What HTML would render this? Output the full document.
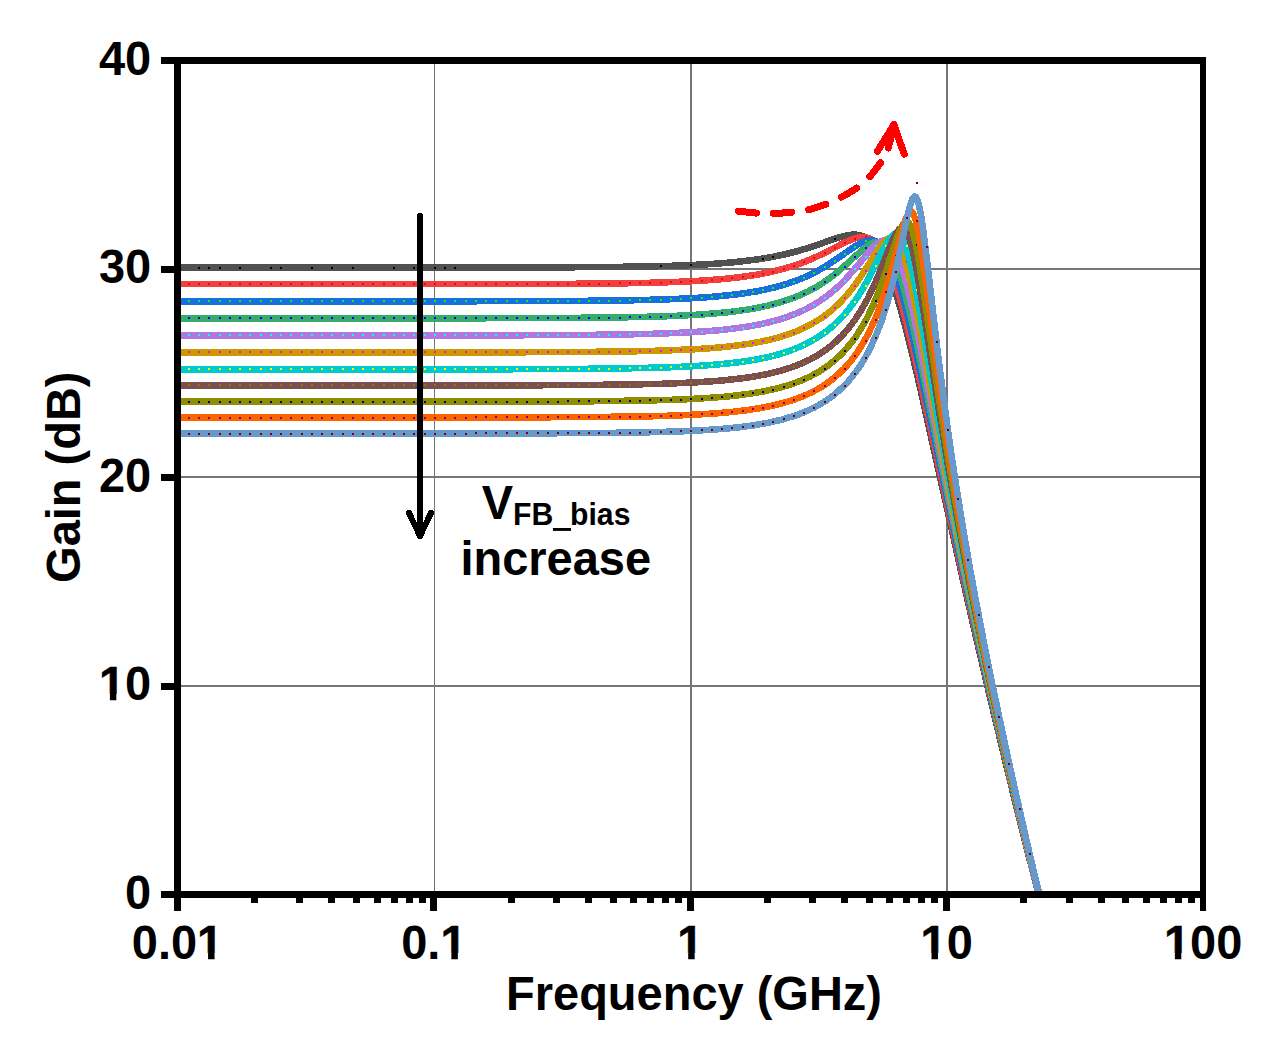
<!DOCTYPE html>
<html><head><meta charset="utf-8"><style>
html,body{margin:0;padding:0;background:#fff;}
svg{display:block;}
text{font-family:"Liberation Sans",sans-serif;font-weight:bold;fill:#000;}
</style></head><body>
<svg width="1271" height="1060" viewBox="0 0 1271 1060">
<rect width="1271" height="1060" fill="#fff"/>
<g fill="#767676">
<rect x="434" y="64" width="1" height="827"/>
<rect x="690" y="64" width="2" height="827"/>
<rect x="946" y="64" width="2" height="827"/>
<rect x="181" y="268" width="1019" height="2"/>
<rect x="181" y="476" width="1019" height="2"/>
<rect x="181" y="685" width="1019" height="2"/>
</g>
<defs><clipPath id="pc"><rect x="174" y="57" width="1032" height="837"/></clipPath></defs>
<g clip-path="url(#pc)" fill="none" stroke-width="6.6" stroke-linejoin="round" shape-rendering="crispEdges">
<path d="M177.5,267.6 L455.8,267.6 L563.7,267.3 L636.2,266.7 L663.3,266.1 L686.7,265.3 L712.3,264.0 L734.3,262.2 L753.9,259.9 L771.8,257.1 L785.7,254.1 L799.1,250.7 L812.5,246.5 L837.8,237.7 L844.0,236.0 L849.0,235.0 L854.4,234.6 L857.1,234.8 L859.5,235.2 L861.8,235.9 L863.9,236.7 L866.0,237.8 L868.1,239.2 L870.5,241.1 L872.8,243.5 L875.2,246.4 L877.6,249.7 L882.0,257.4 L886.5,267.0 L891.0,278.5 L895.4,291.8 L900.2,307.7 L905.5,327.5 L912.7,356.1 L921.0,391.8 L962.6,578.4 L975.4,634.5 L987.9,688.3 L1001.0,743.3 L1014.0,797.1 L1027.4,850.7 L1040.8,903.1" stroke="#515151"/>
<path d="M198.0,266.6h2v2h-2zM208.3,266.6h2v2h-2zM218.5,266.6h2v2h-2zM239.0,266.6h2v2h-2zM269.8,266.6h2v2h-2zM280.1,266.6h2v2h-2zM310.8,266.6h2v2h-2zM331.3,266.6h2v2h-2zM351.9,266.6h2v2h-2zM392.9,266.6h2v2h-2zM413.4,266.6h2v2h-2zM433.9,266.6h2v2h-2zM444.2,266.6h2v2h-2zM454.4,266.6h2v2h-2zM659.5,265.2h2v2h-2zM690.3,264.2h2v2h-2zM762.1,257.7h2v2h-2zM772.3,256.0h2v2h-2zM833.9,238.0h2v2h-2z" fill="#000000" stroke="none"/>
<path d="M177.5,284.2 L466.8,284.1 L576.4,283.8 L617.2,283.4 L649.9,282.8 L677.5,281.9 L701.0,280.7 L722.4,279.1 L741.4,277.0 L758.7,274.4 L774.1,271.2 L783.1,268.9 L791.4,266.5 L799.4,263.8 L807.4,260.7 L814.6,257.6 L821.7,254.3 L845.8,242.0 L850.5,239.9 L854.4,238.5 L857.1,237.8 L859.8,237.3 L862.1,237.1 L864.5,237.3 L866.6,237.6 L868.7,238.3 L870.8,239.3 L872.8,240.6 L874.9,242.3 L877.0,244.4 L879.1,246.9 L881.2,249.9 L885.0,256.7 L888.9,265.2 L893.0,276.1 L897.2,288.9 L901.4,303.2 L906.1,321.2 L912.4,346.8 L919.5,377.9 L959.3,560.0 L972.4,618.4 L985.2,674.2 L998.9,732.6 L1012.8,790.8 L1026.8,847.5 L1040.8,902.9" stroke="#F14040"/>
<path d="M187.8,283.2h2v2h-2zM198.0,283.2h2v2h-2zM208.3,283.2h2v2h-2zM218.5,283.2h2v2h-2zM228.8,283.2h2v2h-2zM239.0,283.2h2v2h-2zM249.3,283.2h2v2h-2zM259.5,283.2h2v2h-2zM269.8,283.2h2v2h-2zM280.1,283.2h2v2h-2zM290.3,283.2h2v2h-2zM300.6,283.2h2v2h-2zM310.8,283.2h2v2h-2zM321.1,283.2h2v2h-2zM331.3,283.2h2v2h-2zM341.6,283.2h2v2h-2zM351.9,283.2h2v2h-2zM362.1,283.2h2v2h-2zM372.4,283.2h2v2h-2zM382.6,283.2h2v2h-2zM392.9,283.2h2v2h-2zM403.1,283.2h2v2h-2zM413.4,283.2h2v2h-2zM423.6,283.2h2v2h-2zM433.9,283.2h2v2h-2zM444.2,283.2h2v2h-2zM454.4,283.2h2v2h-2zM464.7,283.2h2v2h-2zM474.9,283.1h2v2h-2zM485.2,283.1h2v2h-2zM495.4,283.1h2v2h-2zM505.7,283.1h2v2h-2zM515.9,283.1h2v2h-2zM526.2,283.1h2v2h-2zM536.5,283.0h2v2h-2zM546.7,283.0h2v2h-2zM557.0,282.9h2v2h-2zM567.2,282.9h2v2h-2zM577.5,282.8h2v2h-2zM587.7,282.7h2v2h-2zM598.0,282.7h2v2h-2zM608.3,282.5h2v2h-2zM618.5,282.4h2v2h-2zM628.8,282.3h2v2h-2zM639.0,282.1h2v2h-2zM649.3,281.8h2v2h-2zM659.5,281.6h2v2h-2zM669.8,281.2h2v2h-2zM680.0,280.8h2v2h-2zM690.3,280.3h2v2h-2zM700.6,279.8h2v2h-2zM710.8,279.1h2v2h-2zM721.1,278.2h2v2h-2zM731.3,277.2h2v2h-2zM741.6,276.0h2v2h-2zM751.8,274.5h2v2h-2zM762.1,272.7h2v2h-2zM772.3,270.6h2v2h-2zM782.6,268.1h2v2h-2zM792.9,265.0h2v2h-2zM803.1,261.4h2v2h-2zM813.4,257.2h2v2h-2zM823.6,252.3h2v2h-2zM833.9,247.1h2v2h-2zM844.1,241.8h2v2h-2zM854.4,237.5h2v2h-2zM864.7,236.3h2v2h-2zM874.9,241.3h2v2h-2zM885.2,256.0h2v2h-2zM895.4,282.2h2v2h-2zM905.7,318.4h2v2h-2zM915.9,361.1h2v2h-2zM926.2,407.1h2v2h-2zM936.4,454.3h2v2h-2zM946.7,501.5h2v2h-2zM957.0,548.3h2v2h-2zM967.2,594.3h2v2h-2zM977.5,639.6h2v2h-2zM987.7,684.1h2v2h-2zM998.0,727.8h2v2h-2zM1008.2,770.7h2v2h-2zM1018.5,812.9h2v2h-2zM1028.7,854.3h2v2h-2z" fill="#FF0000" stroke="none"/>
<path d="M177.5,301.3 L477.2,301.2 L588.3,300.8 L629.7,300.3 L662.7,299.5 L690.3,298.3 L714.1,296.7 L736.1,294.4 L746.2,293.0 L755.7,291.5 L764.6,289.7 L772.9,287.8 L781.0,285.7 L788.7,283.3 L796.7,280.4 L804.5,277.3 L811.9,273.8 L819.3,269.9 L825.9,266.1 L832.4,261.9 L854.4,246.7 L858.6,244.1 L862.1,242.3 L866.6,240.7 L868.7,240.3 L870.8,240.2 L872.8,240.4 L874.6,240.9 L876.4,241.6 L878.2,242.7 L880.0,244.0 L881.7,245.8 L883.5,248.0 L885.3,250.5 L888.9,256.8 L892.5,264.9 L896.0,274.6 L899.6,285.8 L903.5,299.5 L907.6,315.7 L913.0,338.4 L918.9,365.1 L955.8,539.0 L968.6,597.6 L981.6,655.9 L996.2,719.3 L1011.1,782.1 L1025.9,843.2 L1041.1,903.9" stroke="#1A6FDF"/>
<path d="M187.8,300.3h2v2h-2zM198.0,300.3h2v2h-2zM208.3,300.3h2v2h-2zM218.5,300.3h2v2h-2zM228.8,300.3h2v2h-2zM239.0,300.3h2v2h-2zM249.3,300.3h2v2h-2zM259.5,300.3h2v2h-2zM269.8,300.3h2v2h-2zM280.1,300.3h2v2h-2zM290.3,300.3h2v2h-2zM300.6,300.3h2v2h-2zM310.8,300.3h2v2h-2zM321.1,300.3h2v2h-2zM331.3,300.3h2v2h-2zM341.6,300.3h2v2h-2zM351.9,300.3h2v2h-2zM362.1,300.3h2v2h-2zM372.4,300.3h2v2h-2zM382.6,300.3h2v2h-2zM392.9,300.3h2v2h-2zM403.1,300.3h2v2h-2zM413.4,300.3h2v2h-2zM423.6,300.3h2v2h-2zM433.9,300.3h2v2h-2zM444.2,300.3h2v2h-2zM454.4,300.3h2v2h-2zM464.7,300.2h2v2h-2zM474.9,300.2h2v2h-2zM485.2,300.2h2v2h-2zM495.4,300.2h2v2h-2zM505.7,300.2h2v2h-2zM515.9,300.2h2v2h-2zM526.2,300.1h2v2h-2zM536.5,300.1h2v2h-2zM546.7,300.1h2v2h-2zM557.0,300.0h2v2h-2zM567.2,300.0h2v2h-2zM577.5,299.9h2v2h-2zM587.7,299.8h2v2h-2zM598.0,299.7h2v2h-2zM608.3,299.6h2v2h-2zM618.5,299.5h2v2h-2zM628.8,299.3h2v2h-2zM639.0,299.1h2v2h-2zM649.3,298.9h2v2h-2zM659.5,298.6h2v2h-2zM669.8,298.2h2v2h-2zM680.0,297.8h2v2h-2zM690.3,297.3h2v2h-2zM700.6,296.7h2v2h-2zM710.8,296.0h2v2h-2zM721.1,295.1h2v2h-2zM731.3,294.0h2v2h-2zM741.6,292.7h2v2h-2zM751.8,291.1h2v2h-2zM762.1,289.2h2v2h-2zM772.3,287.0h2v2h-2zM782.6,284.2h2v2h-2zM792.9,280.9h2v2h-2zM803.1,276.9h2v2h-2zM813.4,272.1h2v2h-2zM823.6,266.4h2v2h-2zM833.9,259.9h2v2h-2zM844.1,252.8h2v2h-2zM854.4,245.7h2v2h-2zM864.7,240.3h2v2h-2zM874.9,240.0h2v2h-2zM885.2,249.3h2v2h-2zM895.4,271.8h2v2h-2zM905.7,307.0h2v2h-2zM915.9,350.6h2v2h-2zM926.2,398.2h2v2h-2zM936.4,447.0h2v2h-2zM946.7,495.6h2v2h-2zM957.0,543.5h2v2h-2zM967.2,590.5h2v2h-2zM977.5,636.5h2v2h-2zM987.7,681.6h2v2h-2zM998.0,725.9h2v2h-2zM1008.2,769.3h2v2h-2zM1018.5,811.9h2v2h-2zM1028.7,853.6h2v2h-2z" fill="#00FF00" stroke="none"/>
<path d="M177.5,318.3 L485.8,318.2 L551.5,318.0 L598.4,317.7 L640.4,317.0 L673.7,316.0 L701.3,314.5 L725.1,312.5 L736.7,311.1 L747.4,309.6 L757.5,307.8 L767.0,305.8 L775.9,303.5 L784.5,301.0 L792.6,298.2 L800.3,295.1 L808.0,291.5 L815.5,287.5 L822.6,283.1 L829.4,278.4 L835.7,273.6 L841.9,268.4 L862.4,249.8 L866.0,246.9 L869.3,244.7 L873.4,242.6 L875.2,242.1 L877.0,241.8 L878.8,241.9 L880.3,242.1 L882.0,242.8 L883.5,243.7 L885.3,245.1 L886.8,246.7 L889.8,250.8 L892.7,256.2 L895.7,263.1 L898.7,271.4 L902.0,281.9 L905.2,293.9 L908.8,308.2 L913.9,330.3 L919.8,358.2 L943.9,476.6 L956.4,536.7 L967.4,588.2 L978.7,639.7 L993.5,705.6 L1009.0,772.0 L1025.0,838.8 L1041.1,903.8" stroke="#37AD6B"/>
<path d="M187.8,317.3h2v2h-2zM198.0,317.3h2v2h-2zM208.3,317.3h2v2h-2zM218.5,317.3h2v2h-2zM228.8,317.3h2v2h-2zM239.0,317.3h2v2h-2zM249.3,317.3h2v2h-2zM259.5,317.3h2v2h-2zM269.8,317.3h2v2h-2zM280.1,317.3h2v2h-2zM290.3,317.3h2v2h-2zM300.6,317.3h2v2h-2zM310.8,317.3h2v2h-2zM321.1,317.3h2v2h-2zM331.3,317.3h2v2h-2zM341.6,317.3h2v2h-2zM351.9,317.3h2v2h-2zM362.1,317.3h2v2h-2zM372.4,317.3h2v2h-2zM382.6,317.3h2v2h-2zM392.9,317.3h2v2h-2zM403.1,317.3h2v2h-2zM413.4,317.3h2v2h-2zM423.6,317.3h2v2h-2zM433.9,317.3h2v2h-2zM444.2,317.3h2v2h-2zM454.4,317.3h2v2h-2zM464.7,317.2h2v2h-2zM474.9,317.2h2v2h-2zM485.2,317.2h2v2h-2zM495.4,317.2h2v2h-2zM505.7,317.2h2v2h-2zM515.9,317.2h2v2h-2zM526.2,317.1h2v2h-2zM536.5,317.1h2v2h-2zM546.7,317.1h2v2h-2zM557.0,317.0h2v2h-2zM567.2,317.0h2v2h-2zM577.5,316.9h2v2h-2zM587.7,316.8h2v2h-2zM598.0,316.7h2v2h-2zM608.3,316.6h2v2h-2zM618.5,316.5h2v2h-2zM628.8,316.3h2v2h-2zM639.0,316.1h2v2h-2zM649.3,315.8h2v2h-2zM659.5,315.5h2v2h-2zM669.8,315.2h2v2h-2zM680.0,314.7h2v2h-2zM690.3,314.2h2v2h-2zM700.6,313.6h2v2h-2zM710.8,312.8h2v2h-2zM721.1,311.9h2v2h-2zM731.3,310.8h2v2h-2zM741.6,309.5h2v2h-2zM751.8,307.8h2v2h-2zM762.1,305.9h2v2h-2zM772.3,303.5h2v2h-2zM782.6,300.6h2v2h-2zM792.9,297.1h2v2h-2zM803.1,292.8h2v2h-2zM813.4,287.7h2v2h-2zM823.6,281.4h2v2h-2zM833.9,274.0h2v2h-2zM844.1,265.5h2v2h-2zM854.4,256.0h2v2h-2zM864.7,246.9h2v2h-2zM874.9,241.1h2v2h-2zM885.2,244.0h2v2h-2zM895.4,261.4h2v2h-2zM905.7,294.6h2v2h-2zM915.9,338.9h2v2h-2zM926.2,388.3h2v2h-2zM936.4,439.1h2v2h-2zM946.7,489.3h2v2h-2zM957.0,538.5h2v2h-2zM967.2,586.5h2v2h-2zM977.5,633.3h2v2h-2zM987.7,679.1h2v2h-2zM998.0,723.9h2v2h-2zM1008.2,767.8h2v2h-2zM1018.5,810.8h2v2h-2zM1028.7,853.0h2v2h-2z" fill="#0000FF" stroke="none"/>
<path d="M177.5,335.4 L494.7,335.3 L561.0,335.1 L608.6,334.7 L650.8,333.9 L684.4,332.6 L712.3,330.8 L724.8,329.6 L736.1,328.2 L748.0,326.5 L759.0,324.5 L769.4,322.2 L778.9,319.6 L787.8,316.7 L796.4,313.4 L804.5,309.8 L812.2,305.7 L819.6,301.1 L826.5,296.3 L833.3,290.9 L839.8,285.0 L844.6,280.2 L849.6,274.8 L855.6,267.9 L869.3,251.4 L872.8,247.6 L876.1,244.5 L879.7,242.0 L881.5,241.2 L882.9,240.7 L884.4,240.6 L885.9,240.7 L887.4,241.2 L888.6,241.9 L891.3,244.2 L893.9,247.9 L896.3,252.3 L899.0,258.7 L901.7,266.4 L904.3,275.4 L907.0,285.6 L910.0,298.0 L914.4,318.4 L919.5,343.2 L940.9,453.9 L952.5,512.3 L963.8,567.2 L975.4,621.7 L990.6,690.4 L1006.9,761.8 L1023.8,833.2 L1041.1,903.5" stroke="#B177DE"/>
<path d="M187.8,334.4h2v2h-2zM198.0,334.4h2v2h-2zM208.3,334.4h2v2h-2zM218.5,334.4h2v2h-2zM228.8,334.4h2v2h-2zM239.0,334.4h2v2h-2zM249.3,334.4h2v2h-2zM259.5,334.4h2v2h-2zM269.8,334.4h2v2h-2zM280.1,334.4h2v2h-2zM290.3,334.4h2v2h-2zM300.6,334.4h2v2h-2zM310.8,334.4h2v2h-2zM321.1,334.4h2v2h-2zM331.3,334.4h2v2h-2zM341.6,334.4h2v2h-2zM351.9,334.4h2v2h-2zM362.1,334.4h2v2h-2zM372.4,334.4h2v2h-2zM382.6,334.4h2v2h-2zM392.9,334.4h2v2h-2zM403.1,334.4h2v2h-2zM413.4,334.4h2v2h-2zM423.6,334.4h2v2h-2zM433.9,334.4h2v2h-2zM444.2,334.4h2v2h-2zM454.4,334.4h2v2h-2zM464.7,334.3h2v2h-2zM474.9,334.3h2v2h-2zM485.2,334.3h2v2h-2zM495.4,334.3h2v2h-2zM505.7,334.3h2v2h-2zM515.9,334.3h2v2h-2zM526.2,334.2h2v2h-2zM536.5,334.2h2v2h-2zM546.7,334.2h2v2h-2zM557.0,334.1h2v2h-2zM567.2,334.1h2v2h-2zM577.5,334.0h2v2h-2zM587.7,333.9h2v2h-2zM598.0,333.8h2v2h-2zM608.3,333.7h2v2h-2zM618.5,333.5h2v2h-2zM628.8,333.4h2v2h-2zM639.0,333.2h2v2h-2zM649.3,332.9h2v2h-2zM659.5,332.6h2v2h-2zM669.8,332.3h2v2h-2zM680.0,331.8h2v2h-2zM690.3,331.3h2v2h-2zM700.6,330.7h2v2h-2zM710.8,329.9h2v2h-2zM721.1,329.0h2v2h-2zM731.3,327.8h2v2h-2zM741.6,326.5h2v2h-2zM751.8,324.8h2v2h-2zM762.1,322.8h2v2h-2zM772.3,320.4h2v2h-2zM782.6,317.4h2v2h-2zM792.9,313.8h2v2h-2zM803.1,309.4h2v2h-2zM813.4,304.0h2v2h-2zM823.6,297.4h2v2h-2zM833.9,289.4h2v2h-2zM844.1,279.7h2v2h-2zM854.4,268.3h2v2h-2zM864.7,255.9h2v2h-2zM874.9,244.6h2v2h-2zM885.2,239.6h2v2h-2zM895.4,249.5h2v2h-2zM905.7,279.3h2v2h-2zM915.9,324.5h2v2h-2zM926.2,376.5h2v2h-2zM936.4,429.9h2v2h-2zM946.7,482.4h2v2h-2zM957.0,533.2h2v2h-2zM967.2,582.5h2v2h-2zM977.5,630.2h2v2h-2zM987.7,676.7h2v2h-2zM998.0,722.1h2v2h-2zM1008.2,766.5h2v2h-2zM1018.5,809.9h2v2h-2zM1028.7,852.4h2v2h-2z" fill="#00FFFF" stroke="none"/>
<path d="M177.5,352.4 L505.4,352.3 L572.9,352.0 L620.7,351.6 L663.3,350.6 L697.1,349.1 L711.7,348.1 L725.1,346.9 L737.6,345.4 L748.9,343.8 L760.8,341.7 L771.8,339.2 L782.2,336.4 L791.7,333.2 L800.6,329.6 L808.9,325.5 L816.9,320.9 L824.4,316.0 L831.5,310.4 L838.0,304.5 L844.3,298.0 L850.5,290.7 L855.3,284.5 L860.0,277.8 L865.4,269.6 L877.6,250.3 L880.9,245.6 L883.5,242.3 L886.5,239.4 L889.2,237.8 L890.7,237.4 L891.9,237.4 L893.0,237.7 L894.2,238.3 L896.3,240.2 L898.4,243.1 L900.2,246.5 L902.3,251.6 L904.3,257.7 L906.4,264.9 L910.9,283.3 L914.7,301.8 L919.2,325.2 L938.5,433.0 L949.5,492.2 L960.8,549.9 L973.0,609.2 L988.5,680.7 L1005.1,754.0 L1022.7,827.8 L1041.4,903.3" stroke="#CC9900"/>
<path d="M187.8,351.4h2v2h-2zM198.0,351.4h2v2h-2zM208.3,351.4h2v2h-2zM218.5,351.4h2v2h-2zM228.8,351.4h2v2h-2zM239.0,351.4h2v2h-2zM249.3,351.4h2v2h-2zM259.5,351.4h2v2h-2zM269.8,351.4h2v2h-2zM280.1,351.4h2v2h-2zM290.3,351.4h2v2h-2zM300.6,351.4h2v2h-2zM310.8,351.4h2v2h-2zM321.1,351.4h2v2h-2zM331.3,351.4h2v2h-2zM341.6,351.4h2v2h-2zM351.9,351.4h2v2h-2zM362.1,351.4h2v2h-2zM372.4,351.4h2v2h-2zM382.6,351.4h2v2h-2zM392.9,351.4h2v2h-2zM403.1,351.4h2v2h-2zM413.4,351.4h2v2h-2zM423.6,351.4h2v2h-2zM433.9,351.4h2v2h-2zM444.2,351.4h2v2h-2zM454.4,351.4h2v2h-2zM464.7,351.3h2v2h-2zM474.9,351.3h2v2h-2zM485.2,351.3h2v2h-2zM495.4,351.3h2v2h-2zM505.7,351.3h2v2h-2zM515.9,351.3h2v2h-2zM526.2,351.2h2v2h-2zM536.5,351.2h2v2h-2zM546.7,351.2h2v2h-2zM557.0,351.1h2v2h-2zM567.2,351.1h2v2h-2zM577.5,351.0h2v2h-2zM587.7,350.9h2v2h-2zM598.0,350.8h2v2h-2zM608.3,350.7h2v2h-2zM618.5,350.6h2v2h-2zM628.8,350.4h2v2h-2zM639.0,350.2h2v2h-2zM649.3,350.0h2v2h-2zM659.5,349.7h2v2h-2zM669.8,349.4h2v2h-2zM680.0,349.0h2v2h-2zM690.3,348.5h2v2h-2zM700.6,347.9h2v2h-2zM710.8,347.1h2v2h-2zM721.1,346.2h2v2h-2zM731.3,345.2h2v2h-2zM741.6,343.9h2v2h-2zM751.8,342.3h2v2h-2zM762.1,340.4h2v2h-2zM772.3,338.1h2v2h-2zM782.6,335.2h2v2h-2zM792.9,331.7h2v2h-2zM803.1,327.4h2v2h-2zM813.4,322.1h2v2h-2zM823.6,315.5h2v2h-2zM833.9,307.3h2v2h-2zM844.1,297.2h2v2h-2zM854.4,284.7h2v2h-2zM864.7,269.8h2v2h-2zM874.9,253.4h2v2h-2zM885.2,239.6h2v2h-2zM895.4,238.3h2v2h-2zM905.7,261.2h2v2h-2zM915.9,306.9h2v2h-2zM926.2,362.9h2v2h-2zM936.4,420.5h2v2h-2zM946.7,476.2h2v2h-2zM957.0,529.5h2v2h-2zM967.2,580.4h2v2h-2zM977.5,629.2h2v2h-2zM987.7,676.3h2v2h-2zM998.0,722.0h2v2h-2zM1008.2,766.3h2v2h-2zM1018.5,809.5h2v2h-2zM1028.7,851.7h2v2h-2z" fill="#FF00FF" stroke="none"/>
<path d="M177.5,369.3 L512.5,369.2 L580.6,368.9 L628.8,368.3 L671.9,367.2 L689.7,366.4 L705.8,365.4 L720.3,364.2 L733.7,362.8 L746.2,361.2 L757.5,359.2 L769.7,356.7 L780.7,353.8 L791.1,350.3 L800.6,346.5 L809.5,342.2 L817.8,337.3 L825.6,332.0 L833.0,325.9 L839.8,319.4 L846.1,312.5 L852.3,304.6 L858.3,296.0 L862.7,288.8 L867.5,280.4 L872.5,270.8 L883.8,248.2 L886.8,242.9 L889.5,238.7 L892.2,235.5 L894.5,233.8 L895.7,233.4 L896.6,233.3 L897.8,233.6 L898.7,234.0 L900.5,235.6 L902.0,237.8 L903.5,240.6 L905.2,245.0 L907.0,250.4 L908.8,256.7 L912.4,271.9 L915.9,289.9 L919.8,311.3 L937.6,417.2 L948.0,476.3 L959.3,536.7 L971.2,596.5 L986.7,669.8 L1003.6,745.8 L1022.1,824.5 L1041.4,903.3" stroke="#00CBCC"/>
<path d="M187.8,368.3h2v2h-2zM198.0,368.3h2v2h-2zM208.3,368.3h2v2h-2zM218.5,368.3h2v2h-2zM228.8,368.3h2v2h-2zM239.0,368.3h2v2h-2zM249.3,368.3h2v2h-2zM259.5,368.3h2v2h-2zM269.8,368.3h2v2h-2zM280.1,368.3h2v2h-2zM290.3,368.3h2v2h-2zM300.6,368.3h2v2h-2zM310.8,368.3h2v2h-2zM321.1,368.3h2v2h-2zM331.3,368.3h2v2h-2zM341.6,368.3h2v2h-2zM351.9,368.3h2v2h-2zM362.1,368.3h2v2h-2zM372.4,368.3h2v2h-2zM382.6,368.3h2v2h-2zM392.9,368.3h2v2h-2zM403.1,368.3h2v2h-2zM413.4,368.3h2v2h-2zM423.6,368.3h2v2h-2zM433.9,368.3h2v2h-2zM444.2,368.3h2v2h-2zM454.4,368.3h2v2h-2zM464.7,368.2h2v2h-2zM474.9,368.2h2v2h-2zM485.2,368.2h2v2h-2zM495.4,368.2h2v2h-2zM505.7,368.2h2v2h-2zM515.9,368.2h2v2h-2zM526.2,368.1h2v2h-2zM536.5,368.1h2v2h-2zM546.7,368.1h2v2h-2zM557.0,368.0h2v2h-2zM567.2,368.0h2v2h-2zM577.5,367.9h2v2h-2zM587.7,367.8h2v2h-2zM598.0,367.7h2v2h-2zM608.3,367.6h2v2h-2zM618.5,367.5h2v2h-2zM628.8,367.3h2v2h-2zM639.0,367.1h2v2h-2zM649.3,366.9h2v2h-2zM659.5,366.6h2v2h-2zM669.8,366.3h2v2h-2zM680.0,365.9h2v2h-2zM690.3,365.4h2v2h-2zM700.6,364.8h2v2h-2zM710.8,364.0h2v2h-2zM721.1,363.2h2v2h-2zM731.3,362.1h2v2h-2zM741.6,360.8h2v2h-2zM751.8,359.3h2v2h-2zM762.1,357.3h2v2h-2zM772.3,355.0h2v2h-2zM782.6,352.2h2v2h-2zM792.9,348.7h2v2h-2zM803.1,344.4h2v2h-2zM813.4,339.0h2v2h-2zM823.6,332.4h2v2h-2zM833.9,324.1h2v2h-2zM844.1,313.7h2v2h-2zM854.4,300.7h2v2h-2zM864.7,284.5h2v2h-2zM874.9,265.1h2v2h-2zM885.2,244.8h2v2h-2zM895.4,232.5h2v2h-2zM905.7,245.2h2v2h-2zM915.9,288.8h2v2h-2zM926.2,348.0h2v2h-2zM936.4,409.3h2v2h-2zM946.7,467.9h2v2h-2zM957.0,523.3h2v2h-2zM967.2,575.7h2v2h-2zM977.5,625.6h2v2h-2zM987.7,673.6h2v2h-2zM998.0,719.9h2v2h-2zM1008.2,764.8h2v2h-2zM1018.5,808.5h2v2h-2zM1028.7,851.1h2v2h-2z" fill="#FFFF00" stroke="none"/>
<path d="M177.5,385.4 L521.2,385.3 L589.8,385.0 L638.6,384.3 L661.8,383.8 L682.0,383.0 L700.1,382.1 L716.2,381.0 L730.7,379.6 L744.1,378.0 L756.6,376.1 L767.9,373.9 L780.1,370.9 L791.1,367.5 L801.2,363.6 L810.7,359.2 L819.6,354.1 L827.9,348.3 L835.7,341.9 L842.8,334.9 L849.3,327.3 L855.6,318.9 L861.5,309.6 L867.2,299.6 L871.6,290.6 L876.1,280.8 L880.9,269.4 L890.7,244.9 L893.3,238.8 L895.7,234.2 L897.8,230.9 L899.9,228.7 L901.1,228.1 L902.0,227.9 L902.9,228.0 L903.7,228.4 L905.5,230.1 L907.0,232.6 L908.5,236.0 L910.0,240.3 L911.5,245.6 L913.3,253.0 L916.5,269.1 L922.5,304.3 L940.0,417.3 L949.5,474.4 L956.1,511.5 L962.9,548.5 L970.0,585.5 L977.5,622.6 L991.4,689.1 L1006.9,758.8 L1023.6,830.2 L1041.4,903.4" stroke="#7D4E4E"/>
<path d="M187.8,384.4h2v2h-2zM198.0,384.4h2v2h-2zM208.3,384.4h2v2h-2zM218.5,384.4h2v2h-2zM228.8,384.4h2v2h-2zM239.0,384.4h2v2h-2zM249.3,384.4h2v2h-2zM259.5,384.4h2v2h-2zM269.8,384.4h2v2h-2zM280.1,384.4h2v2h-2zM290.3,384.4h2v2h-2zM300.6,384.4h2v2h-2zM310.8,384.4h2v2h-2zM321.1,384.4h2v2h-2zM331.3,384.4h2v2h-2zM341.6,384.4h2v2h-2zM351.9,384.4h2v2h-2zM362.1,384.4h2v2h-2zM372.4,384.4h2v2h-2zM382.6,384.4h2v2h-2zM392.9,384.4h2v2h-2zM403.1,384.4h2v2h-2zM413.4,384.4h2v2h-2zM423.6,384.4h2v2h-2zM433.9,384.4h2v2h-2zM444.2,384.4h2v2h-2zM454.4,384.4h2v2h-2zM464.7,384.4h2v2h-2zM474.9,384.3h2v2h-2zM485.2,384.3h2v2h-2zM495.4,384.3h2v2h-2zM505.7,384.3h2v2h-2zM515.9,384.3h2v2h-2zM526.2,384.3h2v2h-2zM536.5,384.2h2v2h-2zM546.7,384.2h2v2h-2zM557.0,384.2h2v2h-2zM567.2,384.1h2v2h-2zM577.5,384.0h2v2h-2zM587.7,384.0h2v2h-2zM598.0,383.9h2v2h-2zM608.3,383.8h2v2h-2zM618.5,383.6h2v2h-2zM628.8,383.5h2v2h-2zM639.0,383.3h2v2h-2zM649.3,383.1h2v2h-2zM659.5,382.8h2v2h-2zM669.8,382.5h2v2h-2zM680.0,382.1h2v2h-2zM690.3,381.6h2v2h-2zM700.6,381.1h2v2h-2zM710.8,380.4h2v2h-2zM721.1,379.6h2v2h-2zM731.3,378.6h2v2h-2zM741.6,377.4h2v2h-2zM751.8,375.9h2v2h-2zM762.1,374.1h2v2h-2zM772.3,371.9h2v2h-2zM782.6,369.2h2v2h-2zM792.9,365.9h2v2h-2zM803.1,361.8h2v2h-2zM813.4,356.7h2v2h-2zM823.6,350.4h2v2h-2zM833.9,342.5h2v2h-2zM844.1,332.4h2v2h-2zM854.4,319.6h2v2h-2zM864.7,303.2h2v2h-2zM874.9,282.5h2v2h-2zM885.2,257.6h2v2h-2zM895.4,233.7h2v2h-2zM905.7,229.3h2v2h-2zM915.9,264.9h2v2h-2zM926.2,327.2h2v2h-2zM936.4,393.8h2v2h-2zM946.7,456.8h2v2h-2zM957.0,515.4h2v2h-2zM967.2,570.0h2v2h-2zM977.5,621.6h2v2h-2zM987.7,670.8h2v2h-2zM998.0,718.0h2v2h-2zM1008.2,763.6h2v2h-2zM1018.5,807.8h2v2h-2zM1028.7,850.8h2v2h-2z" fill="#808000" stroke="none"/>
<path d="M177.5,401.7 L527.7,401.6 L597.0,401.2 L646.0,400.5 L669.2,399.9 L689.7,399.1 L707.8,398.0 L723.9,396.8 L738.8,395.2 L752.1,393.4 L764.6,391.2 L775.9,388.7 L788.1,385.3 L799.4,381.3 L809.5,376.9 L819.0,371.7 L823.5,368.8 L827.9,365.7 L836.0,359.2 L839.8,355.6 L843.7,351.7 L850.8,343.4 L856.2,336.1 L861.5,327.8 L866.6,318.8 L871.3,309.2 L876.7,296.9 L882.0,282.9 L886.8,269.2 L895.7,241.7 L899.6,231.2 L901.7,226.6 L903.7,223.4 L904.9,222.2 L905.8,221.7 L906.7,221.6 L907.6,221.9 L909.1,223.3 L910.3,225.3 L911.5,228.1 L912.7,231.6 L915.3,242.2 L918.3,257.6 L923.7,291.6 L939.4,401.5 L948.3,458.8 L954.3,494.6 L960.5,530.2 L967.4,567.4 L974.5,604.5 L981.3,638.7 L988.8,674.5 L1004.8,748.3 L1022.4,824.4 L1041.4,902.9" stroke="#8E8E00"/>
<path d="M187.8,400.7h2v2h-2zM198.0,400.7h2v2h-2zM208.3,400.7h2v2h-2zM218.5,400.7h2v2h-2zM228.8,400.7h2v2h-2zM239.0,400.7h2v2h-2zM249.3,400.7h2v2h-2zM259.5,400.7h2v2h-2zM269.8,400.7h2v2h-2zM280.1,400.7h2v2h-2zM290.3,400.7h2v2h-2zM300.6,400.7h2v2h-2zM310.8,400.7h2v2h-2zM321.1,400.7h2v2h-2zM331.3,400.7h2v2h-2zM341.6,400.7h2v2h-2zM351.9,400.7h2v2h-2zM362.1,400.7h2v2h-2zM372.4,400.7h2v2h-2zM382.6,400.7h2v2h-2zM392.9,400.7h2v2h-2zM403.1,400.7h2v2h-2zM413.4,400.7h2v2h-2zM423.6,400.7h2v2h-2zM433.9,400.7h2v2h-2zM444.2,400.7h2v2h-2zM454.4,400.7h2v2h-2zM464.7,400.7h2v2h-2zM474.9,400.6h2v2h-2zM485.2,400.6h2v2h-2zM495.4,400.6h2v2h-2zM505.7,400.6h2v2h-2zM515.9,400.6h2v2h-2zM526.2,400.6h2v2h-2zM536.5,400.5h2v2h-2zM546.7,400.5h2v2h-2zM557.0,400.5h2v2h-2zM567.2,400.4h2v2h-2zM577.5,400.4h2v2h-2zM587.7,400.3h2v2h-2zM598.0,400.2h2v2h-2zM608.3,400.1h2v2h-2zM618.5,400.0h2v2h-2zM628.8,399.8h2v2h-2zM639.0,399.6h2v2h-2zM649.3,399.4h2v2h-2zM659.5,399.2h2v2h-2zM669.8,398.9h2v2h-2zM680.0,398.5h2v2h-2zM690.3,398.0h2v2h-2zM700.6,397.5h2v2h-2zM710.8,396.8h2v2h-2zM721.1,396.0h2v2h-2zM731.3,395.0h2v2h-2zM741.6,393.9h2v2h-2zM751.8,392.4h2v2h-2zM762.1,390.7h2v2h-2zM772.3,388.6h2v2h-2zM782.6,386.0h2v2h-2zM792.9,382.7h2v2h-2zM803.1,378.8h2v2h-2zM813.4,373.9h2v2h-2zM823.6,367.7h2v2h-2zM833.9,360.0h2v2h-2zM844.1,350.2h2v2h-2zM854.4,337.7h2v2h-2zM864.7,321.4h2v2h-2zM874.9,300.2h2v2h-2zM885.2,273.0h2v2h-2zM895.4,241.6h2v2h-2zM905.7,220.8h2v2h-2zM915.9,244.0h2v2h-2zM926.2,308.1h2v2h-2zM936.4,380.3h2v2h-2zM946.7,447.6h2v2h-2zM957.0,509.0h2v2h-2zM967.2,565.6h2v2h-2zM977.5,618.5h2v2h-2zM987.7,668.6h2v2h-2zM998.0,716.4h2v2h-2zM1008.2,762.4h2v2h-2zM1018.5,806.9h2v2h-2zM1028.7,850.2h2v2h-2z" fill="#000080" stroke="none"/>
<path d="M177.5,417.5 L534.5,417.3 L604.4,416.9 L653.7,416.2 L676.9,415.5 L697.4,414.5 L715.6,413.4 L731.9,411.9 L746.8,410.2 L760.2,408.1 L772.6,405.6 L783.9,402.8 L796.1,398.9 L801.8,396.7 L807.4,394.3 L812.5,391.9 L817.5,389.2 L822.3,386.4 L827.1,383.2 L831.5,379.9 L835.7,376.5 L839.8,372.8 L843.7,369.0 L847.6,364.8 L851.1,360.6 L854.7,355.9 L858.3,350.9 L863.9,341.8 L869.0,332.4 L874.0,321.6 L878.8,309.9 L883.8,295.7 L888.6,280.5 L893.0,264.6 L901.4,233.0 L904.6,222.1 L906.4,217.3 L908.2,213.8 L909.1,212.7 L910.0,212.0 L910.9,211.8 L911.5,212.0 L912.7,213.1 L913.6,214.5 L914.4,216.6 L915.6,220.2 L918.0,230.2 L920.4,243.5 L924.9,274.3 L939.1,383.3 L947.4,441.3 L953.1,477.7 L959.0,513.8 L965.3,549.6 L972.1,586.9 L979.3,624.0 L986.7,661.0 L994.7,699.6 L1003.0,738.1 L1012.0,778.2 L1021.5,819.7 L1031.3,861.3 L1041.4,903.1" stroke="#FB6501"/>
<path d="M187.8,416.5h2v2h-2zM198.0,416.5h2v2h-2zM208.3,416.5h2v2h-2zM218.5,416.5h2v2h-2zM228.8,416.5h2v2h-2zM239.0,416.5h2v2h-2zM249.3,416.5h2v2h-2zM259.5,416.5h2v2h-2zM269.8,416.5h2v2h-2zM280.1,416.5h2v2h-2zM290.3,416.5h2v2h-2zM300.6,416.5h2v2h-2zM310.8,416.5h2v2h-2zM321.1,416.5h2v2h-2zM331.3,416.5h2v2h-2zM341.6,416.5h2v2h-2zM351.9,416.5h2v2h-2zM362.1,416.5h2v2h-2zM372.4,416.5h2v2h-2zM382.6,416.5h2v2h-2zM392.9,416.5h2v2h-2zM403.1,416.5h2v2h-2zM413.4,416.5h2v2h-2zM423.6,416.5h2v2h-2zM433.9,416.5h2v2h-2zM444.2,416.5h2v2h-2zM454.4,416.5h2v2h-2zM464.7,416.5h2v2h-2zM474.9,416.4h2v2h-2zM485.2,416.4h2v2h-2zM495.4,416.4h2v2h-2zM505.7,416.4h2v2h-2zM515.9,416.4h2v2h-2zM526.2,416.4h2v2h-2zM536.5,416.3h2v2h-2zM546.7,416.3h2v2h-2zM557.0,416.3h2v2h-2zM567.2,416.2h2v2h-2zM577.5,416.2h2v2h-2zM587.7,416.1h2v2h-2zM598.0,416.0h2v2h-2zM608.3,415.9h2v2h-2zM618.5,415.8h2v2h-2zM628.8,415.6h2v2h-2zM639.0,415.5h2v2h-2zM649.3,415.3h2v2h-2zM659.5,415.0h2v2h-2zM669.8,414.7h2v2h-2zM680.0,414.3h2v2h-2zM690.3,413.9h2v2h-2zM700.6,413.4h2v2h-2zM710.8,412.7h2v2h-2zM721.1,411.9h2v2h-2zM731.3,411.0h2v2h-2zM741.6,409.8h2v2h-2zM751.8,408.4h2v2h-2zM762.1,406.7h2v2h-2zM772.3,404.7h2v2h-2zM782.6,402.1h2v2h-2zM792.9,399.0h2v2h-2zM803.1,395.2h2v2h-2zM813.4,390.4h2v2h-2zM823.6,384.5h2v2h-2zM833.9,377.0h2v2h-2zM844.1,367.5h2v2h-2zM854.4,355.3h2v2h-2zM864.7,339.5h2v2h-2zM874.9,318.5h2v2h-2zM885.2,290.6h2v2h-2zM895.4,254.6h2v2h-2zM905.7,218.2h2v2h-2zM915.9,220.2h2v2h-2zM926.2,283.4h2v2h-2zM936.4,362.5h2v2h-2zM946.7,435.3h2v2h-2zM957.0,500.3h2v2h-2zM967.2,559.3h2v2h-2zM977.5,613.8h2v2h-2zM987.7,665.1h2v2h-2zM998.0,713.8h2v2h-2zM1008.2,760.6h2v2h-2zM1018.5,805.8h2v2h-2zM1028.7,849.7h2v2h-2z" fill="#800080" stroke="none"/>
<path d="M177.5,433.5 L540.8,433.3 L611.2,432.9 L660.9,432.0 L684.7,431.2 L705.2,430.1 L723.3,428.8 L739.7,427.2 L754.5,425.2 L767.9,422.8 L780.4,420.0 L791.7,416.7 L797.9,414.6 L803.9,412.3 L809.5,409.8 L815.2,407.0 L820.5,404.1 L825.6,400.9 L830.3,397.6 L835.1,394.0 L839.5,390.1 L843.7,386.1 L847.9,381.8 L851.7,377.3 L855.6,372.3 L859.2,367.2 L862.7,361.7 L866.0,356.1 L871.3,345.8 L876.4,334.4 L881.2,322.1 L885.9,307.8 L890.7,291.2 L895.1,273.4 L899.3,254.7 L906.4,220.4 L909.4,207.8 L911.2,201.9 L912.7,198.4 L913.6,197.1 L914.2,196.6 L914.7,196.4 L915.3,196.6 L916.2,197.5 L917.1,199.1 L918.9,204.8 L920.7,213.5 L922.5,224.6 L926.3,254.4 L938.5,358.9 L946.6,420.6 L951.6,455.9 L957.3,492.9 L963.2,529.3 L969.7,567.0 L976.6,604.3 L984.0,642.9 L992.0,682.9 L1000.7,724.1 L1009.9,766.7 L1020.0,811.9 L1030.4,857.1 L1041.4,903.6" stroke="#6699CC"/>
<path d="M187.8,432.5h2v2h-2zM198.0,432.5h2v2h-2zM208.3,432.5h2v2h-2zM218.5,432.5h2v2h-2zM228.8,432.5h2v2h-2zM239.0,432.5h2v2h-2zM249.3,432.5h2v2h-2zM259.5,432.5h2v2h-2zM269.8,432.5h2v2h-2zM280.1,432.5h2v2h-2zM290.3,432.5h2v2h-2zM300.6,432.5h2v2h-2zM310.8,432.5h2v2h-2zM321.1,432.5h2v2h-2zM331.3,432.5h2v2h-2zM341.6,432.5h2v2h-2zM351.9,432.5h2v2h-2zM362.1,432.5h2v2h-2zM372.4,432.5h2v2h-2zM382.6,432.5h2v2h-2zM392.9,432.5h2v2h-2zM403.1,432.5h2v2h-2zM413.4,432.5h2v2h-2zM423.6,432.5h2v2h-2zM433.9,432.5h2v2h-2zM444.2,432.5h2v2h-2zM454.4,432.5h2v2h-2zM464.7,432.5h2v2h-2zM474.9,432.4h2v2h-2zM485.2,432.4h2v2h-2zM495.4,432.4h2v2h-2zM505.7,432.4h2v2h-2zM515.9,432.4h2v2h-2zM526.2,432.4h2v2h-2zM536.5,432.3h2v2h-2zM546.7,432.3h2v2h-2zM557.0,432.3h2v2h-2zM567.2,432.2h2v2h-2zM577.5,432.2h2v2h-2zM587.7,432.1h2v2h-2zM598.0,432.0h2v2h-2zM608.3,431.9h2v2h-2zM618.5,431.8h2v2h-2zM628.8,431.7h2v2h-2zM639.0,431.5h2v2h-2zM649.3,431.3h2v2h-2zM659.5,431.0h2v2h-2zM669.8,430.7h2v2h-2zM680.0,430.4h2v2h-2zM690.3,429.9h2v2h-2zM700.6,429.4h2v2h-2zM710.8,428.8h2v2h-2zM721.1,428.0h2v2h-2zM731.3,427.1h2v2h-2zM741.6,425.9h2v2h-2zM751.8,424.6h2v2h-2zM762.1,422.9h2v2h-2zM772.3,420.9h2v2h-2zM782.6,418.4h2v2h-2zM792.9,415.3h2v2h-2zM803.1,411.6h2v2h-2zM813.4,407.0h2v2h-2zM823.6,401.2h2v2h-2zM833.9,393.9h2v2h-2zM844.1,384.7h2v2h-2zM854.4,372.9h2v2h-2zM864.7,357.4h2v2h-2zM874.9,336.9h2v2h-2zM885.2,309.2h2v2h-2zM895.4,271.1h2v2h-2zM905.7,216.9h2v2h-2zM915.9,181.5h2v2h-2zM926.2,245.6h2v2h-2zM936.4,340.6h2v2h-2zM946.7,428.6h2v2h-2zM957.0,497.8h2v2h-2zM967.2,558.7h2v2h-2zM977.5,614.4h2v2h-2zM987.7,666.4h2v2h-2zM998.0,715.7h2v2h-2zM1008.2,762.9h2v2h-2zM1018.5,808.4h2v2h-2zM1028.7,852.6h2v2h-2z" fill="#800000" stroke="none"/>
</g>
<g fill="#000">
<rect x="174" y="57" width="1032" height="7"/>
<rect x="161" y="891" width="1045" height="7"/>
<rect x="174" y="57" width="7" height="854"/>
<rect x="1200" y="57" width="6" height="854"/>
<rect x="430" y="898" width="7" height="13"/>
<rect x="687" y="898" width="7" height="13"/>
<rect x="943" y="898" width="7" height="13"/>
<rect x="251" y="898" width="7" height="5"/>
<rect x="296" y="898" width="7" height="5"/>
<rect x="328" y="898" width="7" height="5"/>
<rect x="353" y="898" width="7" height="5"/>
<rect x="374" y="898" width="7" height="5"/>
<rect x="391" y="898" width="7" height="5"/>
<rect x="406" y="898" width="7" height="5"/>
<rect x="419" y="898" width="7" height="5"/>
<rect x="508" y="898" width="7" height="5"/>
<rect x="553" y="898" width="7" height="5"/>
<rect x="585" y="898" width="7" height="5"/>
<rect x="610" y="898" width="7" height="5"/>
<rect x="630" y="898" width="7" height="5"/>
<rect x="647" y="898" width="7" height="5"/>
<rect x="662" y="898" width="7" height="5"/>
<rect x="675" y="898" width="7" height="5"/>
<rect x="764" y="898" width="7" height="5"/>
<rect x="809" y="898" width="7" height="5"/>
<rect x="841" y="898" width="7" height="5"/>
<rect x="866" y="898" width="7" height="5"/>
<rect x="886" y="898" width="7" height="5"/>
<rect x="903" y="898" width="7" height="5"/>
<rect x="918" y="898" width="7" height="5"/>
<rect x="931" y="898" width="7" height="5"/>
<rect x="1020" y="898" width="7" height="5"/>
<rect x="1066" y="898" width="7" height="5"/>
<rect x="1098" y="898" width="7" height="5"/>
<rect x="1122" y="898" width="7" height="5"/>
<rect x="1143" y="898" width="7" height="5"/>
<rect x="1160" y="898" width="7" height="5"/>
<rect x="1175" y="898" width="7" height="5"/>
<rect x="1188" y="898" width="7" height="5"/>
<rect x="161" y="57" width="13" height="7"/>
<rect x="161" y="266" width="13" height="7"/>
<rect x="161" y="474" width="13" height="7"/>
<rect x="161" y="683" width="13" height="7"/>
</g>
<g>
<g transform="translate(177.50,959.00) scale(1,1.015)"><clipPath id="c1" clipPathUnits="userSpaceOnUse"><path d="M-300,-200H300V100H-300ZM20.85,-6.00H30.57V3.00H20.85ZM37.02,-6.00H46.11V3.00H37.02Z" clip-rule="evenodd"/></clipPath><text x="0" y="0" font-size="47" text-anchor="middle" clip-path="url(#c1)">0.0<tspan stroke="#000" stroke-width="0.55">1</tspan></text></g><g transform="translate(433.90,959.00) scale(1,1.015)"><clipPath id="c2" clipPathUnits="userSpaceOnUse"><path d="M-300,-200H300V100H-300ZM7.78,-6.00H17.50V3.00H7.78ZM23.95,-6.00H33.04V3.00H23.95Z" clip-rule="evenodd"/></clipPath><text x="0" y="0" font-size="47" text-anchor="middle" clip-path="url(#c2)">0.<tspan stroke="#000" stroke-width="0.55">1</tspan></text></g><g transform="translate(690.30,959.00) scale(1,1.015)"><clipPath id="c3" clipPathUnits="userSpaceOnUse"><path d="M-300,-200H300V100H-300ZM-11.82,-6.00H-2.10V3.00H-11.82ZM4.35,-6.00H13.45V3.00H4.35Z" clip-rule="evenodd"/></clipPath><text x="0" y="0" font-size="47" text-anchor="middle" clip-path="url(#c3)"><tspan stroke="#000" stroke-width="0.55">1</tspan></text></g><g transform="translate(946.70,959.00) scale(1,1.015)"><clipPath id="c4" clipPathUnits="userSpaceOnUse"><path d="M-300,-200H300V100H-300ZM-24.89,-6.00H-15.17V3.00H-24.89ZM-8.72,-6.00H0.38V3.00H-8.72Z" clip-rule="evenodd"/></clipPath><text x="0" y="0" font-size="47" text-anchor="middle" clip-path="url(#c4)"><tspan stroke="#000" stroke-width="0.55">1</tspan>0</text></g><g transform="translate(1203.10,959.00) scale(1,1.015)"><clipPath id="c5" clipPathUnits="userSpaceOnUse"><path d="M-300,-200H300V100H-300ZM-37.95,-6.00H-28.24V3.00H-37.95ZM-21.79,-6.00H-12.69V3.00H-21.79Z" clip-rule="evenodd"/></clipPath><text x="0" y="0" font-size="47" text-anchor="middle" clip-path="url(#c5)"><tspan stroke="#000" stroke-width="0.55">1</tspan>00</text></g>
<g transform="translate(151.20,908.50) scale(1,1.015)"><text x="0" y="0" font-size="47" text-anchor="end">0</text></g><g transform="translate(151.20,700.00) scale(1,1.015)"><clipPath id="c6" clipPathUnits="userSpaceOnUse"><path d="M-300,-200H300V100H-300ZM-51.02,-6.00H-41.31V3.00H-51.02ZM-34.86,-6.00H-25.76V3.00H-34.86Z" clip-rule="evenodd"/></clipPath><text x="0" y="0" font-size="47" text-anchor="end" clip-path="url(#c6)"><tspan stroke="#000" stroke-width="0.55">1</tspan>0</text></g><g transform="translate(151.20,491.50) scale(1,1.015)"><text x="0" y="0" font-size="47" text-anchor="end">20</text></g><g transform="translate(151.20,283.00) scale(1,1.015)"><text x="0" y="0" font-size="47" text-anchor="end">30</text></g><g transform="translate(151.20,74.50) scale(1,1.015)"><text x="0" y="0" font-size="47" text-anchor="end">40</text></g>
<g transform="translate(694,1010.3) scale(1,1.025)"><text x="0" y="0" font-size="47" text-anchor="middle">Frequency (GHz)</text></g>
<g transform="translate(80.1,477.2) rotate(-90) scale(1,1.025)"><text x="0" y="0" font-size="47" text-anchor="middle">Gain (dB)</text></g>
<g transform="translate(481.8,518.9) scale(1,1.025)"><text x="0" y="0" font-size="47">V</text></g>
<g transform="translate(513,524.8) scale(1,1.025)"><text x="0" y="0" font-size="30.2">FB_bias</text></g>
<g transform="translate(460.4,574.8) scale(1,1.025)"><text x="0" y="0" font-size="47">increase</text></g>
</g>
<g stroke="#000" stroke-width="6" fill="none" stroke-linecap="round" stroke-linejoin="round" shape-rendering="crispEdges">
<path d="M420,215.5 V535"/>
<path d="M409,513 L420,536 L431,513"/>
</g>
<rect x="553" y="528" width="18" height="2.9" fill="#000"/>
<g stroke="#ff0000" stroke-width="7" fill="none" stroke-linecap="round" stroke-linejoin="round" shape-rendering="crispEdges">
<path d="M738.5,211.4 Q747.5,212 756.5,213.1 M773.4,213.4 Q782.5,213.2 791.5,212.3 M808.5,209.8 Q817.3,207.4 825.9,204.2 M841.5,197.1 Q849.3,193 856.6,188.1 M869.8,176.8 Q875.5,170 880.7,162.6 M888.2,148 Q891.5,137 893.9,124.6"/>
<path d="M877.4,151.3 L893.9,124.6 L904.2,154.2"/>
</g>
</svg>
</body></html>
